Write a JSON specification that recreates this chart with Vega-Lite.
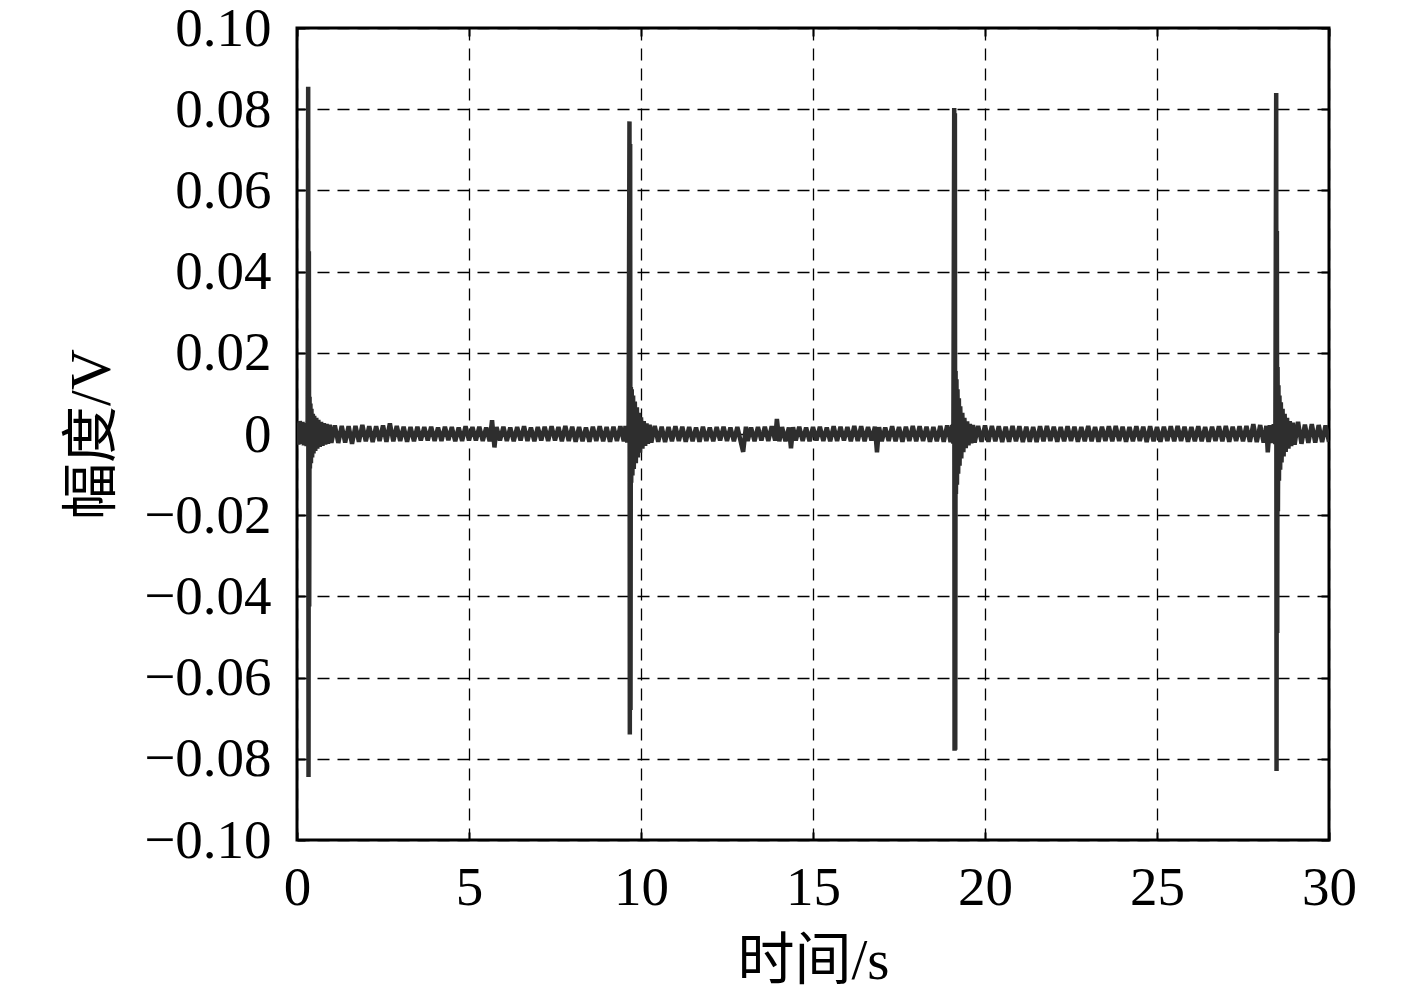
{
  "$schema": "https://vega.github.io/schema/vega-lite/v6.json",
  "width": 1032,
  "height": 812,
  "autosize": {"type": "none"},
  "padding": {"left": 297, "top": 28, "right": 88, "bottom": 147},
  "background": "white",
  "config": {
    "view": {"stroke": "black", "strokeWidth": 3},
    "font": "Liberation Serif",
    "axis": {
      "labelFont": "Liberation Serif",
      "labelFontSize": 55,
      "labelColor": "black",
      "titleFont": "Liberation Serif, Noto Sans CJK SC",
      "titleFontSize": 57,
      "titleFontWeight": "normal",
      "titleColor": "black",
      "domain": false,
      "tickColor": "black",
      "tickWidth": 2,
      "gridColor": "black",
      "gridWidth": 1.3,
      "gridDash": [12, 8],
      "gridOpacity": 1
    }
  },
  "datasets": {
    "sig": [
      {"t":0.00,"v":0.0028},{"t":0.04,"v":-0.0026},{"t":0.08,"v":0.0032},{"t":0.12,"v":-0.0024},{"t":0.16,"v":0.0030},{"t":0.20,"v":-0.0028},{"t":0.24,"v":0.0027},{"t":0.28,"v":-0.0030},{"t":0.31,"v":0.0036},
      {"t":0.325,"v":0.0855},{"t":0.335,"v":-0.0845},{"t":0.345,"v":0.0450},{"t":0.355,"v":-0.0425},{"t":0.365,"v":0.0092},{"t":0.375,"v":-0.0085},{"t":0.39,"v":0.0075},{"t":0.405,"v":-0.0072},{"t":0.42,"v":0.0062},{"t":0.44,"v":-0.0058},{"t":0.46,"v":0.0050},{"t":0.48,"v":-0.0048},{"t":0.50,"v":0.0045},{"t":0.53,"v":-0.0042},{"t":0.56,"v":0.0040},{"t":0.59,"v":-0.0036},{"t":0.62,"v":0.0035},{"t":0.66,"v":-0.0032},{"t":0.70,"v":0.0030},{"t":0.74,"v":-0.0029},{"t":0.78,"v":0.0027},{"t":0.82,"v":-0.0026},{"t":0.86,"v":0.0025},{"t":0.90,"v":-0.0024},{"t":0.95,"v":0.0023},{"t":1.0,"v":-0.0022},
      {"t":1.1,"v":0.0021},{"t":1.2,"v":-0.0022},{"t":1.3,"v":0.0020},{"t":1.4,"v":-0.0021},{"t":1.5,"v":0.0019},{"t":1.6,"v":-0.0024},{"t":1.7,"v":0.0020},{"t":1.8,"v":-0.0019},{"t":1.9,"v":0.0022},{"t":2.0,"v":-0.0018},
      {"t":2.1,"v":0.0019},{"t":2.2,"v":-0.0020},{"t":2.3,"v":0.0019},{"t":2.4,"v":-0.0017},{"t":2.5,"v":0.0021},{"t":2.6,"v":-0.0019},{"t":2.7,"v":0.0026},{"t":2.8,"v":-0.0018},{"t":2.9,"v":0.0020},{"t":3.0,"v":-0.0017},
      {"t":3.1,"v":0.0018},{"t":3.2,"v":-0.0019},{"t":3.3,"v":0.0017},{"t":3.4,"v":-0.0018},{"t":3.5,"v":0.0018},{"t":3.6,"v":-0.0016},{"t":3.7,"v":0.0017},{"t":3.8,"v":-0.0016},{"t":3.9,"v":0.0018},{"t":4.0,"v":-0.0017},
      {"t":4.1,"v":0.0016},{"t":4.2,"v":-0.0017},{"t":4.3,"v":0.0018},{"t":4.4,"v":-0.0015},{"t":4.5,"v":0.0017},{"t":4.6,"v":-0.0018},{"t":4.7,"v":0.0016},{"t":4.8,"v":-0.0017},{"t":4.9,"v":0.0019},{"t":5.0,"v":-0.0016},
      {"t":5.1,"v":0.0017},{"t":5.2,"v":-0.0016},{"t":5.3,"v":0.0018},{"t":5.4,"v":-0.0017},{"t":5.5,"v":0.0016},{"t":5.6,"v":-0.0018},{"t":5.67,"v":0.0034},{"t":5.74,"v":-0.0033},{"t":5.8,"v":0.0017},{"t":5.9,"v":-0.0016},{"t":6.0,"v":0.0018},
      {"t":6.1,"v":-0.0017},{"t":6.2,"v":0.0016},{"t":6.3,"v":-0.0018},{"t":6.4,"v":0.0017},{"t":6.5,"v":-0.0016},{"t":6.6,"v":0.0019},{"t":6.7,"v":-0.0017},{"t":6.8,"v":0.0016},{"t":6.9,"v":-0.0018},{"t":7.0,"v":0.0017},
      {"t":7.1,"v":-0.0016},{"t":7.2,"v":0.0018},{"t":7.3,"v":-0.0017},{"t":7.4,"v":0.0019},{"t":7.5,"v":-0.0016},{"t":7.6,"v":0.0017},{"t":7.7,"v":-0.0018},{"t":7.8,"v":0.0020},{"t":7.9,"v":-0.0017},{"t":8.0,"v":0.0018},
      {"t":8.1,"v":-0.0019},{"t":8.2,"v":0.0017},{"t":8.3,"v":-0.0018},{"t":8.4,"v":0.0016},{"t":8.5,"v":-0.0019},{"t":8.6,"v":0.0018},{"t":8.7,"v":-0.0017},{"t":8.8,"v":0.0019},{"t":8.9,"v":-0.0018},{"t":9.0,"v":0.0017},
      {"t":9.1,"v":-0.0019},{"t":9.2,"v":0.0018},{"t":9.3,"v":-0.0017},{"t":9.4,"v":0.0019},{"t":9.5,"v":-0.0018},{"t":9.55,"v":0.0020},{"t":9.6,"v":-0.0021},{"t":9.64,"v":0.0023},
      {"t":9.665,"v":0.0770},{"t":9.675,"v":-0.0740},{"t":9.685,"v":0.0714},{"t":9.695,"v":-0.0680},{"t":9.705,"v":0.0116},{"t":9.715,"v":-0.0120},{"t":9.73,"v":0.0110},{"t":9.75,"v":-0.0102},{"t":9.77,"v":0.0095},{"t":9.79,"v":-0.0086},{"t":9.82,"v":0.0080},{"t":9.85,"v":-0.0072},{"t":9.88,"v":0.0066},{"t":9.91,"v":-0.0058},{"t":9.94,"v":0.0052},{"t":9.97,"v":-0.0046},{"t":10.0,"v":0.0041},{"t":10.04,"v":-0.0036},{"t":10.08,"v":0.0032},{"t":10.12,"v":-0.0029},{"t":10.16,"v":0.0026},{"t":10.2,"v":-0.0024},{"t":10.25,"v":0.0023},{"t":10.3,"v":-0.0021},
      {"t":10.4,"v":0.0020},{"t":10.5,"v":-0.0019},{"t":10.6,"v":0.0018},{"t":10.7,"v":-0.0020},{"t":10.8,"v":0.0017},{"t":10.9,"v":-0.0018},{"t":11.0,"v":0.0019},
      {"t":11.1,"v":-0.0017},{"t":11.2,"v":0.0018},{"t":11.3,"v":-0.0019},{"t":11.4,"v":0.0017},{"t":11.5,"v":-0.0018},{"t":11.6,"v":0.0016},{"t":11.7,"v":-0.0019},{"t":11.8,"v":0.0018},{"t":11.9,"v":-0.0017},{"t":12.0,"v":0.0016},
      {"t":12.1,"v":-0.0018},{"t":12.2,"v":0.0017},{"t":12.3,"v":-0.0016},{"t":12.4,"v":0.0018},{"t":12.5,"v":-0.0017},{"t":12.6,"v":0.0016},{"t":12.7,"v":-0.0018},{"t":12.8,"v":0.0017},{"t":12.9,"v":-0.0019},{"t":12.97,"v":-0.0044},{"t":13.05,"v":0.0018},
      {"t":13.1,"v":-0.0017},{"t":13.2,"v":0.0016},{"t":13.3,"v":-0.0018},{"t":13.4,"v":0.0017},{"t":13.5,"v":-0.0016},{"t":13.6,"v":0.0018},{"t":13.7,"v":-0.0017},{"t":13.8,"v":0.0019},{"t":13.9,"v":-0.0016},{"t":13.95,"v":0.0037},{"t":14.02,"v":-0.0018},
      {"t":14.1,"v":0.0017},{"t":14.2,"v":-0.0018},{"t":14.3,"v":0.0016},{"t":14.36,"v":-0.0035},{"t":14.42,"v":0.0017},{"t":14.5,"v":-0.0016},{"t":14.6,"v":0.0018},{"t":14.7,"v":-0.0017},{"t":14.8,"v":0.0016},{"t":14.9,"v":-0.0018},{"t":15.0,"v":0.0017},
      {"t":15.1,"v":-0.0016},{"t":15.2,"v":0.0018},{"t":15.3,"v":-0.0017},{"t":15.4,"v":0.0016},{"t":15.5,"v":-0.0018},{"t":15.6,"v":0.0019},{"t":15.7,"v":-0.0017},{"t":15.8,"v":0.0018},{"t":15.9,"v":-0.0016},{"t":16.0,"v":0.0017},
      {"t":16.1,"v":-0.0018},{"t":16.2,"v":0.0020},{"t":16.3,"v":-0.0017},{"t":16.4,"v":0.0019},{"t":16.5,"v":-0.0018},{"t":16.6,"v":0.0017},{"t":16.7,"v":-0.0016},{"t":16.8,"v":0.0018},{"t":16.86,"v":-0.0045},{"t":16.92,"v":0.0017},{"t":17.0,"v":-0.0018},
      {"t":17.1,"v":0.0016},{"t":17.2,"v":-0.0017},{"t":17.3,"v":0.0019},{"t":17.4,"v":-0.0018},{"t":17.5,"v":0.0017},{"t":17.6,"v":-0.0019},{"t":17.7,"v":0.0018},{"t":17.8,"v":-0.0017},{"t":17.9,"v":0.0020},{"t":18.0,"v":-0.0018},
      {"t":18.1,"v":0.0019},{"t":18.2,"v":-0.0017},{"t":18.3,"v":0.0018},{"t":18.4,"v":-0.0019},{"t":18.5,"v":0.0017},{"t":18.6,"v":-0.0018},{"t":18.7,"v":0.0020},{"t":18.8,"v":-0.0019},{"t":18.9,"v":0.0021},{"t":19.0,"v":-0.0020},{"t":19.05,"v":0.0022},{"t":19.08,"v":-0.0024},
      {"t":19.105,"v":0.0803},{"t":19.115,"v":-0.0780},{"t":19.125,"v":0.0790},{"t":19.135,"v":-0.0778},{"t":19.145,"v":0.0155},{"t":19.155,"v":-0.0148},{"t":19.17,"v":0.0135},{"t":19.185,"v":-0.0125},{"t":19.20,"v":0.0110},{"t":19.22,"v":-0.0098},{"t":19.24,"v":0.0088},{"t":19.26,"v":-0.0078},{"t":19.28,"v":0.0068},{"t":19.31,"v":-0.0060},{"t":19.34,"v":0.0052},{"t":19.37,"v":-0.0045},{"t":19.40,"v":0.0040},{"t":19.44,"v":-0.0035},{"t":19.48,"v":0.0031},{"t":19.52,"v":-0.0028},{"t":19.56,"v":0.0025},{"t":19.6,"v":-0.0023},{"t":19.65,"v":0.0022},{"t":19.7,"v":-0.0021},
      {"t":19.8,"v":0.0020},{"t":19.9,"v":-0.0019},{"t":20.0,"v":0.0021},
      {"t":20.1,"v":-0.0019},{"t":20.2,"v":0.0020},{"t":20.3,"v":-0.0018},{"t":20.4,"v":0.0019},{"t":20.5,"v":-0.0020},{"t":20.6,"v":0.0018},{"t":20.7,"v":-0.0019},{"t":20.8,"v":0.0020},{"t":20.9,"v":-0.0018},{"t":21.0,"v":0.0019},
      {"t":21.1,"v":-0.0020},{"t":21.2,"v":0.0018},{"t":21.3,"v":-0.0019},{"t":21.4,"v":0.0017},{"t":21.5,"v":-0.0020},{"t":21.6,"v":0.0019},{"t":21.7,"v":-0.0018},{"t":21.8,"v":0.0020},{"t":21.9,"v":-0.0017},{"t":22.0,"v":0.0018},
      {"t":22.1,"v":-0.0019},{"t":22.2,"v":0.0017},{"t":22.3,"v":-0.0018},{"t":22.4,"v":0.0019},{"t":22.5,"v":-0.0017},{"t":22.6,"v":0.0018},{"t":22.7,"v":-0.0019},{"t":22.8,"v":0.0017},{"t":22.9,"v":-0.0018},{"t":23.0,"v":0.0020},
      {"t":23.1,"v":-0.0018},{"t":23.2,"v":0.0017},{"t":23.3,"v":-0.0019},{"t":23.4,"v":0.0018},{"t":23.5,"v":-0.0017},{"t":23.6,"v":0.0019},{"t":23.7,"v":-0.0018},{"t":23.8,"v":0.0020},{"t":23.9,"v":-0.0017},{"t":24.0,"v":0.0018},
      {"t":24.1,"v":-0.0019},{"t":24.2,"v":0.0017},{"t":24.3,"v":-0.0018},{"t":24.4,"v":0.0019},{"t":24.5,"v":-0.0017},{"t":24.6,"v":0.0018},{"t":24.7,"v":-0.0020},{"t":24.8,"v":0.0019},{"t":24.9,"v":-0.0018},{"t":25.0,"v":0.0017},
      {"t":25.1,"v":-0.0019},{"t":25.2,"v":0.0018},{"t":25.3,"v":-0.0017},{"t":25.4,"v":0.0019},{"t":25.5,"v":-0.0018},{"t":25.6,"v":0.0020},{"t":25.7,"v":-0.0017},{"t":25.8,"v":0.0018},{"t":25.9,"v":-0.0019},{"t":26.0,"v":0.0017},
      {"t":26.1,"v":-0.0018},{"t":26.2,"v":0.0019},{"t":26.3,"v":-0.0018},{"t":26.4,"v":0.0017},{"t":26.5,"v":-0.0019},{"t":26.6,"v":0.0018},{"t":26.7,"v":-0.0017},{"t":26.8,"v":0.0019},{"t":26.9,"v":-0.0018},{"t":27.0,"v":0.0020},
      {"t":27.1,"v":-0.0019},{"t":27.2,"v":0.0018},{"t":27.3,"v":-0.0017},{"t":27.4,"v":0.0019},{"t":27.5,"v":-0.0018},{"t":27.6,"v":0.0020},{"t":27.7,"v":-0.0019},{"t":27.8,"v":0.0024},{"t":27.9,"v":-0.0020},{"t":28.0,"v":0.0022},
      {"t":28.1,"v":-0.0021},{"t":28.18,"v":0.0020},{"t":28.22,"v":-0.0045},{"t":28.28,"v":0.0022},{"t":28.34,"v":-0.0022},{"t":28.40,"v":0.0024},{"t":28.44,"v":-0.0025},
      {"t":28.465,"v":0.0840},{"t":28.475,"v":-0.0830},{"t":28.485,"v":0.0500},{"t":28.495,"v":-0.0490},{"t":28.505,"v":0.0165},{"t":28.515,"v":-0.0190},{"t":28.53,"v":0.0120},{"t":28.545,"v":-0.0115},{"t":28.56,"v":0.0095},{"t":28.58,"v":-0.0088},{"t":28.60,"v":0.0078},{"t":28.62,"v":-0.0070},{"t":28.65,"v":0.0062},{"t":28.68,"v":-0.0055},{"t":28.71,"v":0.0050},{"t":28.74,"v":-0.0044},{"t":28.78,"v":0.0040},{"t":28.82,"v":-0.0036},{"t":28.86,"v":0.0032},{"t":28.90,"v":-0.0030},{"t":28.95,"v":0.0028},{"t":29.0,"v":-0.0026},
      {"t":29.1,"v":0.0030},{"t":29.2,"v":-0.0024},{"t":29.3,"v":0.0023},{"t":29.4,"v":-0.0022},{"t":29.5,"v":0.0024},{"t":29.6,"v":-0.0021},{"t":29.7,"v":0.0022},{"t":29.8,"v":-0.0020},{"t":29.9,"v":0.0021},{"t":30.0,"v":-0.0019}
    ],
    "anchor": [{"t": 0, "v": 0}]
  },
  "layer": [
    {
      "data": {"name": "sig"},
      "mark": {"type": "line", "color": "#2e2e2e", "strokeWidth": 4.5, "clip": true, "strokeJoin": "bevel"},
      "encoding": {
        "x": {
          "field": "t", "type": "quantitative",
          "scale": {"domain": [0, 30], "nice": false, "zero": false},
          "axis": {
            "orient": "bottom",
            "title": "时间/s",
            "values": [0, 5, 10, 15, 20, 25, 30],
            "tickSize": -8,
            "labelPadding": 29,
            "titlePadding": 18,
            "labelFlush": false,
            "grid": true
          }
        },
        "y": {
          "field": "v", "type": "quantitative",
          "scale": {"domain": [-0.1, 0.1], "nice": false, "zero": false},
          "axis": {
            "orient": "left",
            "title": "幅度/V",
            "values": [-0.1, -0.08, -0.06, -0.04, -0.02, 0, 0.02, 0.04, 0.06, 0.08, 0.1],
            "labelExpr": "abs(datum.value) < 1e-9 ? '0' : (datum.value < 0 ? '−' + format(-datum.value, '.2f') : format(datum.value, '.2f'))",
            "tickSize": -8,
            "labelPadding": 34,
            "titlePadding": 22,
            "labelFlush": false,
            "grid": true
          }
        }
      }
    },
    {
      "data": {"name": "anchor"},
      "mark": {"type": "point", "opacity": 0},
      "encoding": {
        "x": {
          "field": "t", "type": "quantitative",
          "axis": {"orient": "top", "title": null, "labels": false, "grid": false, "values": [0, 5, 10, 15, 20, 25, 30], "tickSize": -8}
        },
        "y": {
          "field": "v", "type": "quantitative",
          "axis": {"orient": "right", "title": null, "labels": false, "grid": false, "values": [-0.1, -0.08, -0.06, -0.04, -0.02, 0, 0.02, 0.04, 0.06, 0.08, 0.1], "tickSize": -8}
        }
      }
    }
  ],
  "resolve": {"axis": {"x": "independent", "y": "independent"}}
}
